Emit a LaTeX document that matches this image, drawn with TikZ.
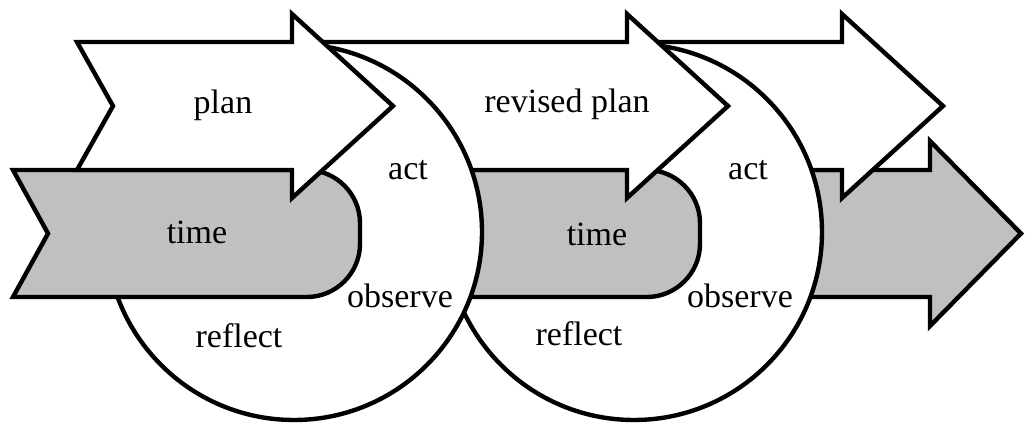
\documentclass[tikz,border=0pt]{standalone}
\usepackage{fontspec}
\setmainfont{Liberation Serif}
\definecolor{bargrey}{RGB}{192,192,192}
\begin{document}
\begin{tikzpicture}[x=0.5pt, y=-0.5pt, line width=2.2pt, line join=miter,
  planarrow/.style={draw=black, fill=white},
  timebar/.style={draw=black, fill=bargrey},
  cycle ring/.style={draw=black, fill=white},
  lbl/.style={font=\fontsize{17}{20}\selectfont, inner sep=0pt}]
\useasboundingbox (0,0) rectangle (1025,423);
% third step, drawn first (it lies at the back)
\draw[timebar] (760,170) -- (930,170) -- (930,141) -- (1021,233.5) -- (930,326) -- (930,297) -- (760,297) -- cycle;
\draw[planarrow] (640,42) -- (842,42) -- (842,14) -- (943,106) -- (842,198) -- (842,170) -- (640,170) -- cycle;
% second cycle
\draw[cycle ring] (634,232) circle[radius=94pt];
\draw[timebar] (420,170) -- (647,170) .. controls (676,170) and (700,194) .. (700,223) -- (700,244)
  .. controls (700,273) and (676,297) .. (647,297) -- (420,297) -- cycle;
\draw[planarrow] (300,42) -- (627,42) -- (627,14) -- (728,106) -- (627,198) -- (627,170) -- (300,170) -- cycle;
% first cycle
\draw[cycle ring] (294,232) circle[radius=94pt];
\draw[timebar] (13,170) -- (307,170) .. controls (336,170) and (360,194) .. (360,223) -- (360,244)
  .. controls (360,273) and (336,297) .. (307,297) -- (13,297) -- (48,233.5) -- cycle;
\draw[planarrow] (77,42) -- (292,42) -- (292,14) -- (393,106) -- (292,198) -- (292,170) -- (77,170) -- (113,106) -- cycle;
% labels
\node[lbl] (plan1) at (223,105) {plan};
\node[lbl] (time1) at (197,232) {time};
\node[lbl] (act1) at (408,170) {act};
\node[lbl] (observe1) at (400,296) {observe};
\node[lbl] (reflect1) at (239,336) {reflect};
\node[lbl] (plan2) at (567,104) {revised plan};
\node[lbl] (time2) at (597,234) {time};
\node[lbl] (act2) at (748,170) {act};
\node[lbl] (observe2) at (740,296) {observe};
\node[lbl] (reflect2) at (579,334) {reflect};
\end{tikzpicture}
\end{document}
